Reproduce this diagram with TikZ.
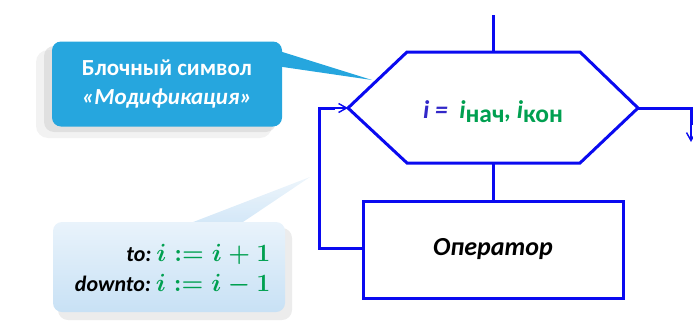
\documentclass[tikz,border=0pt]{standalone}
\usepackage{fontspec}
\setmainfont{Carlito}
\usepackage{amsmath}
\usetikzlibrary{arrows.meta,shadows}
\definecolor{hexblue}{RGB}{10,10,240}
\definecolor{txtblue}{RGB}{50,40,200}
\definecolor{mgreen}{RGB}{0,160,80}
\definecolor{callcyan}{RGB}{38,166,222}
\definecolor{callpale}{RGB}{200,225,245}
\tikzset{
  flow/.style={draw=hexblue, line width=3pt},
  opbox/.style={flow, fill=white, minimum width=260pt, minimum height=97pt, inner sep=0pt},
  darrow/.style={draw=hexblue, line width=2.2pt, -{Straight Barb[length=8pt,width=9pt,line width=1.4pt]}},
  callbox/.style={rounded corners=9pt, fill=callcyan, minimum width=230pt, minimum height=85pt, text=white,
     font=\fontsize{23}{29}\selectfont\bfseries, align=center, inner sep=0pt},
  hintbox/.style={rounded corners=9pt, top color=white!60!callpale, bottom color=callpale, minimum width=232pt,
     minimum height=90pt, inner sep=0pt},
}
\begin{document}
\begin{tikzpicture}[x=1pt,y=-1pt]
\useasboundingbox (0,0) rectangle (693,327);
% hexagon
\coordinate (hexL) at (348,108);
\coordinate (hexR) at (638,108);
\coordinate (hexT) at (493,52);
\coordinate (hexB) at (493,163);
\coordinate (topin) at (493,15);
\draw[flow, line join=miter] (hexL) -- (407,52) -- (580,52) -- (hexR) -- (580,163) -- (407,163) -- cycle;
\node (hex) at (493,112) {\fontsize{25.5}{30}\selectfont\bfseries\itshape
  \textcolor{txtblue}{i =}\ \ \textcolor{mgreen}{i\raisebox{-4pt}{\upshape нач}, i\raisebox{-4pt}{\upshape кон}}};
% operator box
\node[opbox] (op) at (493,249.5) {\fontsize{26}{30}\selectfont\bfseries\itshape Оператор};
\draw[flow] (topin) -- (hexT);
\draw[flow] (hexB) -- (op.north);
\coordinate (loopL) at (319,248);
\draw[flow] (op.west |- 0,248) -- (loopL) -- (319,108) -- (335,108);
\draw[darrow] (330,108) -- (hexL);
\coordinate (exitR) at (691,108);
\coordinate (exitD) at (691,142);
\draw[flow] (hexR) -- (exitR) -- (691,125);
\draw[darrow] (691,120) -- (exitD);
% callout 1
\fill[gray!60, opacity=0.3, rounded corners=10pt] (44,46) rectangle (276,132);
\fill[gray!40, opacity=0.25, rounded corners=12pt] (36,50) rectangle (272,138);
\coordinate (tip1) at (372,80);
\fill[callcyan] (276,50) -- (tip1) -- (276,66) -- cycle;
\node[callbox] (c1) at (167,84) {Блочный символ\\\itshape «Модификация»};
% callout 2
\coordinate (tip2) at (310,177);
\fill[gray!50, opacity=0.3, rounded corners=10pt] (58,228) rectangle (292,320);
\shade[top color=callpale!40, bottom color=callpale, opacity=0.8] (188,224) -- (tip2) -- (240,224) -- cycle;
\node[hintbox] (c2) at (169,267) {};
\node[anchor=east, align=right, font=\fontsize{22}{30}\selectfont\bfseries\itshape] at (274,270)
  {to:\ \textcolor{mgreen}{\fontsize{24}{30}\selectfont\boldmath$i := i + 1$}\\
   downto:\ \textcolor{mgreen}{\fontsize{24}{30}\selectfont\boldmath$i := i - 1$}};
\end{tikzpicture}
\end{document}
